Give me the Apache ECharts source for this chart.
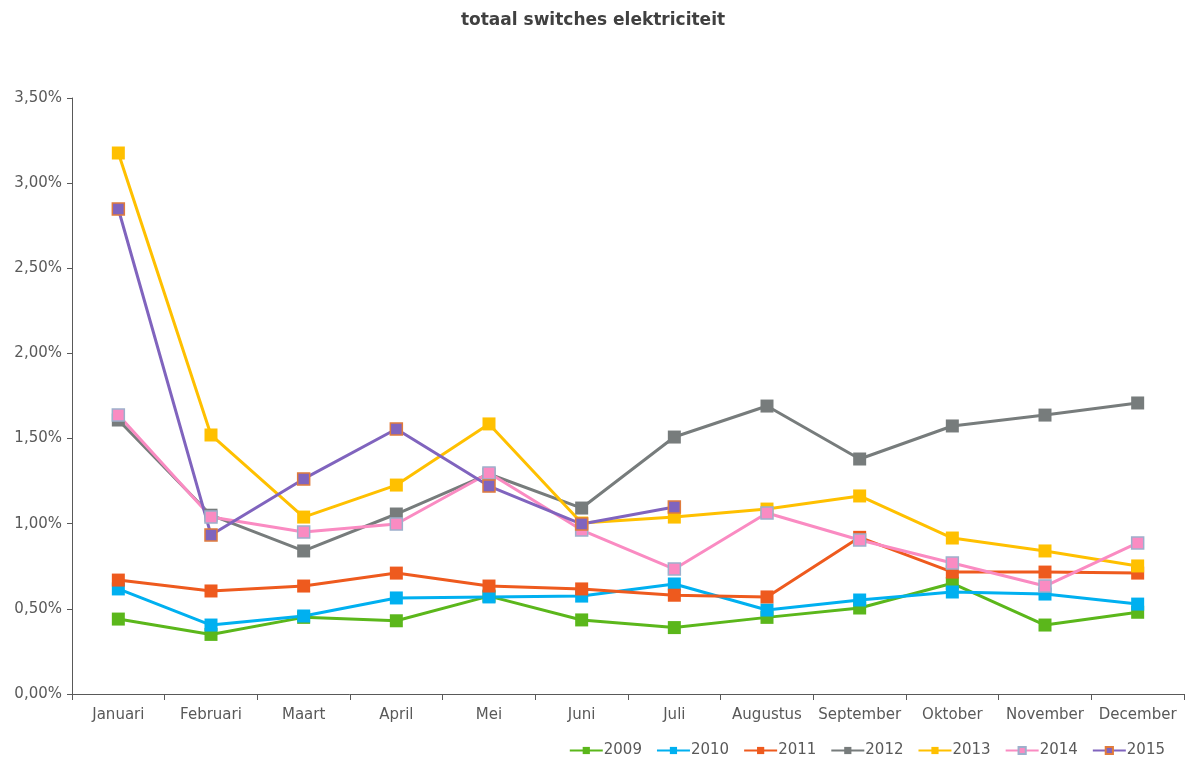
<!DOCTYPE html>
<html>
<head>
<meta charset="utf-8">
<script src="https://cdn.jsdelivr.net/npm/echarts@6/dist/echarts.min.js"></script>
<style>
  html, body { margin: 0; padding: 0; background: #fff; }
  #chart { width: 1186px; height: 757px; }
</style>
</head>
<body>
<div id="chart"></div>
<script>
const months = ["Januari", "Februari", "Maart", "April", "Mei", "Juni", "Juli", "Augustus", "September", "Oktober", "November", "December"];
const y2009 = [0.44, 0.35, 0.45, 0.43, 0.575, 0.435, 0.39, 0.45, 0.505, 0.65, 0.405, 0.48];
const y2010 = [0.617, 0.405, 0.458, 0.564, 0.57, 0.575, 0.646, 0.493, 0.552, 0.599, 0.587, 0.528];
const y2011 = [0.669, 0.605, 0.634, 0.71, 0.634, 0.617, 0.58, 0.57, 0.92, 0.716, 0.716, 0.71];
const y2012 = [1.609, 1.05, 0.84, 1.057, 1.292, 1.092, 1.509, 1.691, 1.38, 1.574, 1.638, 1.709];
const y2013 = [3.177, 1.521, 1.039, 1.227, 1.586, 1.004, 1.039, 1.086, 1.163, 0.916, 0.84, 0.752];
const y2014 = [1.638, 1.039, 0.951, 0.998, 1.298, 0.963, 0.734, 1.063, 0.904, 0.769, 0.634, 0.887];
const y2015 = [2.848, 0.934, 1.263, 1.556, 1.221, 0.998, 1.098, null, null, null, null, null];

const years = ["2009", "2010", "2011", "2012", "2013", "2014", "2015"];
const values = [y2009, y2010, y2011, y2012, y2013, y2014, y2015];
const colors = ["#5BB71B", "#00B0F0", "#EE5A1E", "#777C7C", "#FFC000", "#FA8BC2", "#8064BE"];
// 2014 and 2015 markers have a different border colour
const borders = [null, null, null, null, null, "#9DB0CC", "#E07B3C"];

const series = years.map((y, i) => ({
  name: y,
  type: "line",
  data: values[i],
  symbol: "rect",
  symbolSize: borders[i] ? 12 : 13,
  connectNulls: false,
  lineStyle: { width: 3, color: colors[i] },
  itemStyle: {
    color: colors[i],
    borderColor: borders[i] || colors[i],
    borderWidth: borders[i] ? 1.5 : 0
  },
  emphasis: { disabled: true }
}));

const chart = echarts.init(document.getElementById("chart"));
chart.setOption({
  animation: false,
  backgroundColor: "#fff",
  textStyle: { fontFamily: "DejaVu Sans" },
  title: {
    text: "totaal switches elektriciteit",
    left: "center",
    top: 7,
    textStyle: { fontSize: 17, fontWeight: "bold", color: "#404040", fontFamily: "DejaVu Sans" }
  },
  legend: {
    data: years,
    right: 16,
    top: 738,
    itemWidth: 33,
    itemHeight: 9,
    itemGap: 14,
    textStyle: { fontSize: 15, color: "#595959", padding: [0, 0, 0, -4] }
  },
  grid: { left: 72, right: 2, top: 98, bottom: 63 },
  xAxis: {
    type: "category",
    data: months,
    boundaryGap: true,
    axisLine: { lineStyle: { color: "#595959", width: 1 } },
    axisTick: { show: true, length: 6, interval: 0, lineStyle: { color: "#595959" } },
    axisLabel: { color: "#595959", fontSize: 15, margin: 14, interval: 0 }
  },
  yAxis: {
    type: "value",
    min: 0,
    max: 3.5,
    interval: 0.5,
    axisLine: { show: true, lineStyle: { color: "#595959", width: 1 } },
    axisTick: { show: true, length: 5, lineStyle: { color: "#595959" } },
    splitLine: { show: false },
    axisLabel: {
      color: "#595959",
      fontSize: 15,
      margin: 10,
      formatter: v => v.toFixed(2).replace(".", ",") + "%"
    }
  },
  series: series
});
window.addEventListener("resize", chart.resize);
</script>
</body>
</html>
